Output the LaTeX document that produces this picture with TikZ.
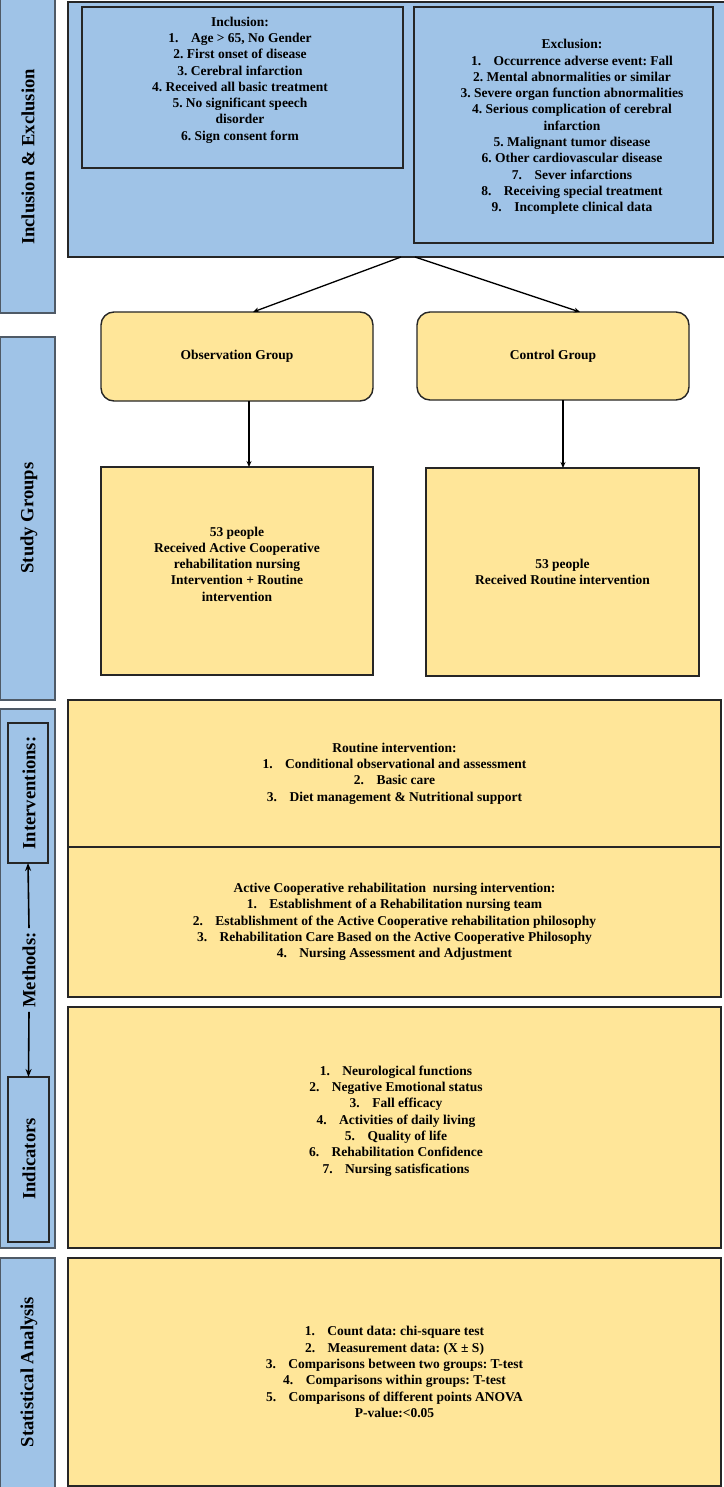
\documentclass[tikz,border=0pt]{standalone}
\usepackage{fontspec}
\setmainfont{Liberation Serif}
\usetikzlibrary{arrows.meta,calc}
\definecolor{bl}{HTML}{9FC3E7}
\definecolor{yl}{HTML}{FFE699}
\definecolor{bd}{HTML}{262626}
\definecolor{gbd}{HTML}{4F5A66}
\newcommand\lgap{\hspace{12.5pt}}
\begin{document}
\frenchspacing
\begin{tikzpicture}[x=1pt,y=-1pt,
  side/.style={draw=gbd,line width=1.2pt,fill=bl,inner sep=0pt,outer sep=0pt},
  bbox/.style={draw=bd,line width=1.4pt,fill=bl,inner sep=0pt,outer sep=0pt},
  ybox/.style={draw=bd,line width=1.4pt,fill=yl,inner sep=0pt,outer sep=0pt,
     font=\fontsize{13.5}{16.3}\selectfont\bfseries,align=center},
  ibox/.style={draw=bd,line width=1.2pt,fill=bl,inner sep=0pt,outer sep=0pt},
  txt/.style={font=\fontsize{13.5}{16.3}\selectfont\bfseries,align=center,inner sep=0pt},
  lab/.style={font=\fontsize{18.6}{22}\selectfont\bfseries,rotate=90,inner sep=0pt},
  arr/.style={draw=black,line width=1.3pt,-{Stealth[length=6pt,width=5pt]}},
  marr/.style={draw=black,line width=1.6pt,-{Stealth[length=8pt,width=6pt]}}
]
\useasboundingbox (0,0) rectangle (723,1487);
\fill[white] (0,0) rectangle (723,1487);
% left column
\node[side,minimum width=55pt,minimum height=315pt] (ie) at (27.5,155.5) {};
\node[side,minimum width=55pt,minimum height=363pt] (sg) at (27.5,518.5) {};
\node[side,minimum width=55pt,minimum height=539pt] (me) at (27.5,978.5) {};
\node[side,minimum width=55pt,minimum height=231pt] (sa) at (27.5,1373.5) {};
\node[ibox,minimum width=40pt,minimum height=140pt] (intv) at (28,793) {};
\node[ibox,minimum width=41pt,minimum height=165pt] (indc) at (28.5,1159.5) {};
\node[lab] (ielab) at (28,157) {Inclusion \& Exclusion};
\node[lab] (sglab) at (29,518) {Study Groups};
\node[lab] (intvlab) at (29,793) {Interventions:};
\node[lab,inner sep=4pt] (melab) at (29,970) {Methods:};
\node[lab] (indlab) at (29,1159) {Indicators};
\node[lab] (salab) at (29,1372) {Statistical Analysis};
\draw[marr] (melab.east) -- (intv.south);
\draw[marr] (melab.west) -- (indc.north);
% top blue area
\node[bbox,minimum width=658pt,minimum height=255pt] (top) at (397,129.5) {};
\node[bbox,minimum width=321pt,minimum height=161pt] (incl) at (242.5,87.5) {};
\node[bbox,minimum width=299pt,minimum height=236pt] (excl) at (563.5,125) {};
\node[txt] (incltxt) at (240,80) {Inclusion:\\
1.\lgap Age > 65, No Gender\\
2. First onset of disease\\
3. Cerebral infarction\\
4. Received all basic treatment\\
5. No significant speech\\
disorder\\
6. Sign consent form};
\node[txt] (excltxt) at (572,127) {Exclusion:\\
1.\lgap Occurrence adverse event: Fall\\
2. Mental abnormalities or similar\\
3. Severe organ function abnormalities\\
4. Serious complication of cerebral\\
infarction\\
5. Malignant tumor disease\\
6. Other cardiovascular disease\\
7.\lgap Sever infarctions\\
8.\lgap Receiving special treatment\\
9.\lgap Incomplete clinical data};
% study groups
\node[ybox,rounded corners=13pt,minimum width=272pt,minimum height=89pt] (obs) at (237,356.5) {Observation Group};
\node[ybox,rounded corners=13pt,minimum width=272pt,minimum height=88pt] (ctrl) at (553,356) {Control Group};
\node[ybox,minimum width=272pt,minimum height=208pt] (obsl) at (237,571) {};
\node[txt] (obsltxt) at (237,564) {53 people\\
Received Active Cooperative\\
rehabilitation nursing\\
Intervention + Routine\\
intervention};
\node[ybox,minimum width=273pt,minimum height=208pt] (ctrll) at (562.5,572) {53 people\\
Received Routine intervention};
\draw[arr] ([xshift=4pt]top.south) -- ([xshift=16pt]obs.north);
\draw[arr] ([xshift=18pt]top.south) -- ([xshift=27pt]ctrl.north);
\draw[arr] ([xshift=12pt]obs.south) -- ([xshift=12pt]obsl.north);
\draw[arr] ([xshift=10pt]ctrl.south) -- ([xshift=0.5pt]ctrll.north);
% methods
\node[ybox,minimum width=653pt,minimum height=147pt] (rout) at (394.5,773.5) {Routine intervention:\\
1.\lgap Conditional observational and assessment\\
2.\lgap Basic care\\
3.\lgap Diet management \& Nutritional support};
\node[ybox,minimum width=653pt,minimum height=150pt] (act) at (394.5,922) {Active Cooperative rehabilitation\ \ nursing intervention:\\
1.\lgap Establishment of a Rehabilitation nursing team\\
2.\lgap Establishment of the Active Cooperative rehabilitation philosophy\\
3.\lgap Rehabilitation Care Based on the Active Cooperative Philosophy\\
4.\lgap Nursing Assessment and Adjustment};
\node[ybox,minimum width=653pt,minimum height=241pt] (ind) at (394.5,1127.5) {};
\node[txt] (indtxt) at (396,1121) {1.\lgap Neurological functions\\
2.\lgap Negative Emotional status\\
3.\lgap Fall efficacy\\
4.\lgap Activities of daily living\\
5.\lgap Quality of life\\
6.\lgap Rehabilitation Confidence\\
7.\lgap Nursing satisfications};
\node[ybox,minimum width=653pt,minimum height=228pt] (stat) at (394.5,1372) {1.\lgap Count data: chi-square test\\
2.\lgap Measurement data: (X ± S)\\
3.\lgap Comparisons between two groups: T-test\\
4.\lgap Comparisons within groups: T-test\\
5.\lgap Comparisons of different points ANOVA\\
P-value:<0.05};
\end{tikzpicture}
\end{document}
